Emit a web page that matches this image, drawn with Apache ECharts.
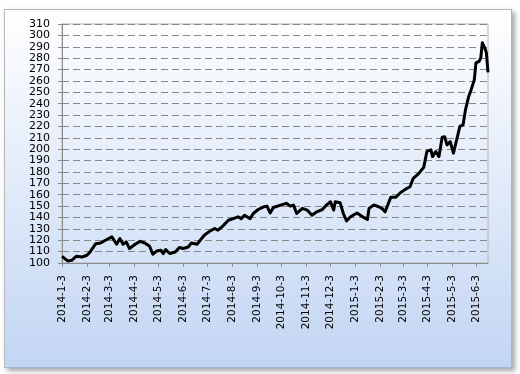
<!DOCTYPE html>
<html>
<head>
<meta charset="utf-8">
<script src="https://cdn.jsdelivr.net/npm/echarts@6/dist/echarts.min.js"></script>
<style>
html,body{margin:0;padding:0;background:#fff;}
#frame{position:absolute;left:4px;top:9px;width:506px;height:357px;border:1px solid #b8b8b8;border-right-color:#a8b4c8;border-bottom-color:#a8b4c8;background:linear-gradient(to bottom,#ffffff 0%,#c2d5f3 100%);box-shadow:3px 3px 5px rgba(70,80,100,0.5);}
#c{position:absolute;left:0;top:0;width:520px;height:374px;}
</style>
</head>
<body>
<div id="frame"></div>
<div id="c"></div>
<script>
var tickLabels = ['2014-1-3','2014-2-3','2014-3-3','2014-4-3','2014-5-3','2014-6-3','2014-7-3','2014-8-3','2014-9-3','2014-10-3','2014-11-3','2014-12-3','2015-1-3','2015-2-3','2015-3-3','2015-4-3','2015-5-3','2015-6-3'];
var startDate = '2014-1-3';
var endDate = '2015-6-17';
var dates = ['2014-1-3','2014-1-10','2014-1-15','2014-1-21','2014-1-28','2014-2-3','2014-2-7','2014-2-14','2014-2-20','2014-2-26','2014-3-6','2014-3-12','2014-3-16','2014-3-20','2014-3-24','2014-3-28','2014-4-4','2014-4-10','2014-4-16','2014-4-22','2014-4-26','2014-5-1','2014-5-6','2014-5-9','2014-5-12','2014-5-17','2014-5-24','2014-5-29','2014-6-3','2014-6-9','2014-6-13','2014-6-20','2014-6-24','2014-6-29','2014-7-2','2014-7-6','2014-7-12','2014-7-16','2014-7-22','2014-7-29','2014-8-4','2014-8-10','2014-8-14','2014-8-18','2014-8-25','2014-8-29','2014-9-4','2014-9-11','2014-9-15','2014-9-19','2014-9-23','2014-10-2','2014-10-9','2014-10-14','2014-10-18','2014-10-22','2014-10-29','2014-11-4','2014-11-10','2014-11-16','2014-11-23','2014-11-28','2014-12-3','2014-12-7','2014-12-9','2014-12-15','2014-12-19','2014-12-23','2014-12-28','2015-1-5','2015-1-11','2015-1-18','2015-1-20','2015-1-26','2015-2-1','2015-2-5','2015-2-9','2015-2-16','2015-2-22','2015-2-28','2015-3-6','2015-3-12','2015-3-16','2015-3-23','2015-3-29','2015-4-2','2015-4-7','2015-4-9','2015-4-13','2015-4-17','2015-4-21','2015-4-24','2015-4-27','2015-5-1','2015-5-5','2015-5-9','2015-5-13','2015-5-17','2015-5-20','2015-5-24','2015-5-27','2015-5-31','2015-6-2','2015-6-6','2015-6-8','2015-6-10','2015-6-13','2015-6-15','2015-6-17'];
var values = [105.9,101.8,102.4,106,105.3,106.8,109.7,117,117.6,120,123,116.5,121.5,116.5,118.5,112.7,116.5,119,117.6,114.7,107.7,110.6,111.2,108.3,111.8,108.3,109.7,113.6,112.7,114.1,117.6,116.5,120,124.4,126,128,130.3,128.8,132.4,137.6,139,140.6,139,142,139,143.5,147,149.4,150,144,148.8,150.9,152.4,150,150.9,143.5,148,146.5,142,145,147,150.9,153.8,146.5,153.8,153,143.5,137,140.6,144,141,138.3,148,151,149.4,148,145,157.7,157.7,161.7,164.7,167,174.4,178.8,184,198,199.4,193.5,198,193.5,210.6,211,203.8,206.7,196.5,208.2,220,221.4,234.7,246.4,252.3,261.1,275.8,277.2,280.2,293.5,289,284.7,267.6];

function fmt(d){return d.getFullYear()+'-'+(d.getMonth()+1)+'-'+d.getDate();}
function parse(s){var p=s.split('-');return new Date(+p[0],+p[1]-1,+p[2]);}
var cats=[];
for(var d=parse(startDate); d<=parse(endDate); d.setDate(d.getDate()+1)){cats.push(fmt(d));}
var seriesData = dates.map(function(s,i){return [s, values[i]];});
function isTick(idx, val){return tickLabels.indexOf(val)>=0;}

var chart = echarts.init(document.getElementById('c'), null, {renderer:'canvas'});
chart.setOption({
  animation:false,
  backgroundColor:'transparent',
  grid:{left:62,right:32,top:24,bottom:111,show:true,borderColor:'#b4b4b4',borderWidth:1},
  xAxis:{
    type:'category', data:cats, boundaryGap:false,
    axisLine:{lineStyle:{color:'#8c8c8c',width:1}},
    axisTick:{show:true,interval:isTick,length:4,lineStyle:{color:'#8c8c8c'}},
    axisLabel:{interval:isTick,rotate:90,margin:12,fontSize:10.5,fontFamily:'DejaVu Sans',color:'#000'}
  },
  yAxis:{
    type:'value', min:100, max:310, interval:10,
    axisLine:{show:true,lineStyle:{color:'#8c8c8c',width:1}},
    axisTick:{show:true,length:4,lineStyle:{color:'#8c8c8c'}},
    axisLabel:{margin:12,fontSize:11,fontFamily:'DejaVu Sans',color:'#000',showMinLabel:true,showMaxLabel:true},
    splitLine:{show:true,lineStyle:{color:'#888888',type:[7,4],width:1}}
  },
  series:[{
    type:'line', data:seriesData, showSymbol:false, symbol:'none',
    lineStyle:{color:'#000',width:3,join:'round'}
  }]
});
</script>
</body>
</html>
